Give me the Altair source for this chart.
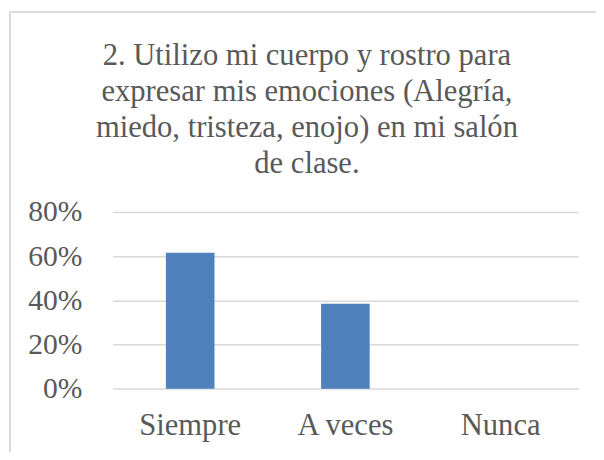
import altair as alt
import pandas as pd

categories = ["Siempre", "A veces", "Nunca"]
values = [0.615, 0.385, 0.0]
title_lines = [
    "2. Utilizo mi cuerpo y rostro para",
    "expresar mis emociones (Alegría,",
    "miedo, tristeza, enojo) en mi salón",
    "de clase.",
]

df = pd.DataFrame({"cat": categories, "val": values})

FONT = "'Liberation Serif', 'Times New Roman', serif"
TXT = "#595959"

bars = alt.Chart(df).mark_bar(color="#4F81BD").encode(
    x=alt.X("cat:N", sort=categories,
            scale=alt.Scale(paddingInner=0.687, paddingOuter=0.3435),
            axis=alt.Axis(title=None, labelAngle=0, ticks=False, domain=False,
                          labelFont=FONT, labelFontSize=31, labelColor=TXT,
                          labelPadding=22)),
    y=alt.Y("val:Q", scale=alt.Scale(domain=[0, 0.8]),
            axis=alt.Axis(title=None, format=".0%", values=[0, 0.2, 0.4, 0.6, 0.8],
                          ticks=False, domain=False, grid=True, gridColor="#D9D9D9",
                          gridWidth=1.5, labelFont=FONT, labelFontSize=30,
                          labelColor=TXT, labelPadding=31)),
)

border = alt.Chart(df).mark_rect(fill=None, stroke="#D9D9D9", strokeWidth=1.5, clip=False).encode(
    x=alt.value(-104), x2=alt.value(530), y=alt.value(-202.4), y2=alt.value(300)
)

chart = alt.layer(border, bars).properties(
    width=472, height=179.3,
    autosize=alt.AutoSizeParams(type="none"),
    padding={"left": 106, "top": 203.7, "right": 18, "bottom": 61},
    title=alt.TitleParams(text=title_lines, font=FONT, fontSize=31, fontWeight="normal",
                          color=TXT, lineHeight=36.7, anchor="middle", dx=-39,
                          offset=-171),
).configure_view(stroke=None)

chart.save("out.html", embed_options={"renderer": "svg", "actions": False})
